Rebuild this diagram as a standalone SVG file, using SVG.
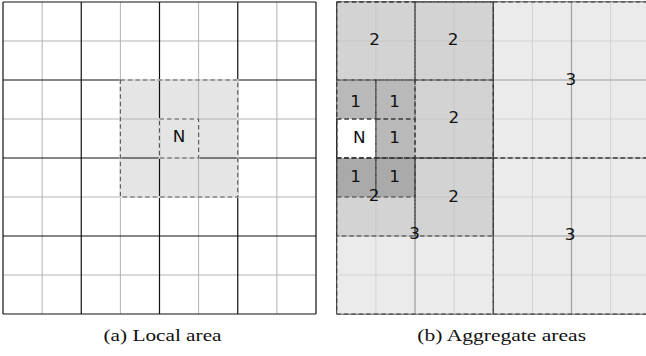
<svg xmlns="http://www.w3.org/2000/svg" width="646" height="356" viewBox="0 0 646 356">
<style>
.minor{stroke:#b3b3b3;stroke-width:1;fill:none}
.major{stroke:#111;stroke-width:1.2;fill:none}
.dash{fill:none;stroke:#3a3a3a;stroke-width:1.1;stroke-dasharray:4.5 3}
.lbl{font-family:"DejaVu Sans",sans-serif;font-size:15px;fill:#111;text-anchor:middle}
.cap{font-family:"Liberation Serif","Times New Roman",serif;font-size:16px;fill:#111;text-anchor:middle}
.r3{fill:#e2e2e2;fill-opacity:0.68}
.r2{fill:#bbbbbb;fill-opacity:0.5}
.r1{fill:#b9b9b9}
.r1b{fill:#aaaaaa}
</style>
<rect x="0" y="0" width="646" height="356" fill="#fff"/>

<!-- Panel (a) -->
<g id="panel-a">
  <rect x="120.375" y="80" width="117.375" height="117" fill="#e5e5e5"/>
  <g id="grid-a">
    <path class="minor" d="M42.125 2V314M120.375 2V314M198.625 2V314M276.875 2V314M3 41H316M3 119H316M3 197H316M3 275H316"/>
    <path class="major" d="M3 2V314M81.25 2V314M159.5 2V314M237.75 2V314M316 2V314M3 2H316M3 80H316M3 158H316M3 236H316M3 314H316"/>
  </g>
  <g id="local-area">
    <rect x="120.375" y="80" width="117.375" height="117" fill="none" stroke="#e5e5e5" stroke-width="1.8"/>
    <rect class="dash" x="120.375" y="80" width="117.375" height="117" style="stroke:#555"/>
  </g>
  <g id="node-a-N">
    <rect x="159.5" y="119" width="39.125" height="39" fill="none" stroke="#e5e5e5" stroke-width="1.8"/>
    <rect class="dash" x="159.5" y="119" width="39.125" height="39" style="stroke:#555"/>
    <text class="lbl" transform="translate(179,142.3) scale(1.12,1)">N</text>
  </g>
  <text class="cap" x="162.5" y="341.3" textLength="118" lengthAdjust="spacingAndGlyphs">(a) Local area</text>
</g>

<!-- Panel (b) -->
<g id="panel-b">
  <g id="grid-b">
    <path class="minor" d="M375.875 2V314M454.125 2V314M532.375 2V314M610.625 2V314M336.75 41H650M336.75 119H650M336.75 197H650M336.75 275H650"/>
    <path class="major" d="M336.75 2V314M415 2V314M493.25 2V314M571.5 2V314M336.75 2H650M336.75 80H650M336.75 158H650M336.75 236H650M336.75 314H650"/>
  </g>
  <g id="level3-fill">
    <rect class="r3" x="336.75" y="2" width="313" height="312"/>
  </g>
  <g id="level2-fill">
    <rect class="r2" x="336.75" y="2" width="78.25" height="78"/>
    <rect class="r2" x="415" y="2" width="78.25" height="78"/>
    <rect class="r2" x="415" y="80" width="78.25" height="78"/>
    <rect class="r2" x="415" y="158" width="78.25" height="78"/>
    <rect class="r2" x="336.75" y="158" width="78.25" height="78"/>
  </g>
  <g id="level1-fill">
    <rect class="r1" x="336.75" y="80" width="39.125" height="39"/>
    <rect class="r1" x="375.875" y="80" width="39.125" height="39"/>
    <rect class="r1" x="375.875" y="119" width="39.125" height="39"/>
    <rect class="r1b" x="336.75" y="158" width="39.125" height="39"/>
    <rect class="r1b" x="375.875" y="158" width="39.125" height="39"/>
    <rect fill="#fff" x="336.75" y="119" width="39.125" height="39"/>
    <path d="M336.75 119V158" stroke="#111" stroke-width="1.2"/>
  </g>
  <g id="borders-b">
    <rect class="dash" x="336.75" y="2" width="156.5" height="156"/>
    <rect class="dash" x="493.25" y="2" width="156.5" height="156"/>
    <rect class="dash" x="336.75" y="158" width="156.5" height="156"/>
    <rect class="dash" x="493.25" y="158" width="156.5" height="156"/>
    <rect class="dash" x="336.75" y="2" width="78.25" height="78"/>
    <rect class="dash" x="415" y="2" width="78.25" height="78"/>
    <rect class="dash" x="415" y="80" width="78.25" height="78"/>
    <rect class="dash" x="415" y="158" width="78.25" height="78"/>
    <rect class="dash" x="336.75" y="158" width="78.25" height="78"/>
    <rect class="dash" x="336.75" y="80" width="39.125" height="39"/>
    <rect class="dash" x="375.875" y="80" width="39.125" height="39"/>
    <rect class="dash" x="375.875" y="119" width="39.125" height="39"/>
    <rect class="dash" x="336.75" y="158" width="39.125" height="39"/>
    <rect class="dash" x="375.875" y="158" width="39.125" height="39"/>
    <rect class="dash" x="336.75" y="119" width="39.125" height="39"/>
  </g>
  <g id="labels-b">
    <g id="node-b-3a"><text class="lbl" transform="translate(570.8,85) scale(1.12,1)">3</text></g>
    <g id="node-b-3b"><text class="lbl" transform="translate(570.2,240) scale(1.12,1)">3</text></g>
    <g id="node-b-3c"><text class="lbl" transform="translate(414.7,239.3) scale(1.12,1)">3</text></g>
    <g id="node-b-2a"><text class="lbl" transform="translate(374.5,44.8) scale(1.12,1)">2</text></g>
    <g id="node-b-2b"><text class="lbl" transform="translate(453.2,44.8) scale(1.12,1)">2</text></g>
    <g id="node-b-2c"><text class="lbl" transform="translate(453.8,123.3) scale(1.12,1)">2</text></g>
    <g id="node-b-2d"><text class="lbl" transform="translate(453.7,202.3) scale(1.12,1)">2</text></g>
    <g id="node-b-2e"><text class="lbl" transform="translate(374.2,200.7) scale(1.12,1)">2</text></g>
    <g id="node-b-1a"><text class="lbl" transform="translate(355.5,107.3) scale(1.12,1)">1</text></g>
    <g id="node-b-1b"><text class="lbl" transform="translate(394.5,107.3) scale(1.12,1)">1</text></g>
    <g id="node-b-1c"><text class="lbl" transform="translate(394.5,142.7) scale(1.12,1)">1</text></g>
    <g id="node-b-1d"><text class="lbl" transform="translate(355.5,182) scale(1.12,1)">1</text></g>
    <g id="node-b-1e"><text class="lbl" transform="translate(394.5,182) scale(1.12,1)">1</text></g>
    <g id="node-b-N"><text class="lbl" transform="translate(359.3,142.7) scale(1.12,1)">N</text></g>
  </g>
  <text class="cap" x="501.7" y="341.3" textLength="168.7" lengthAdjust="spacingAndGlyphs">(b) Aggregate areas</text>
</g>
</svg>
